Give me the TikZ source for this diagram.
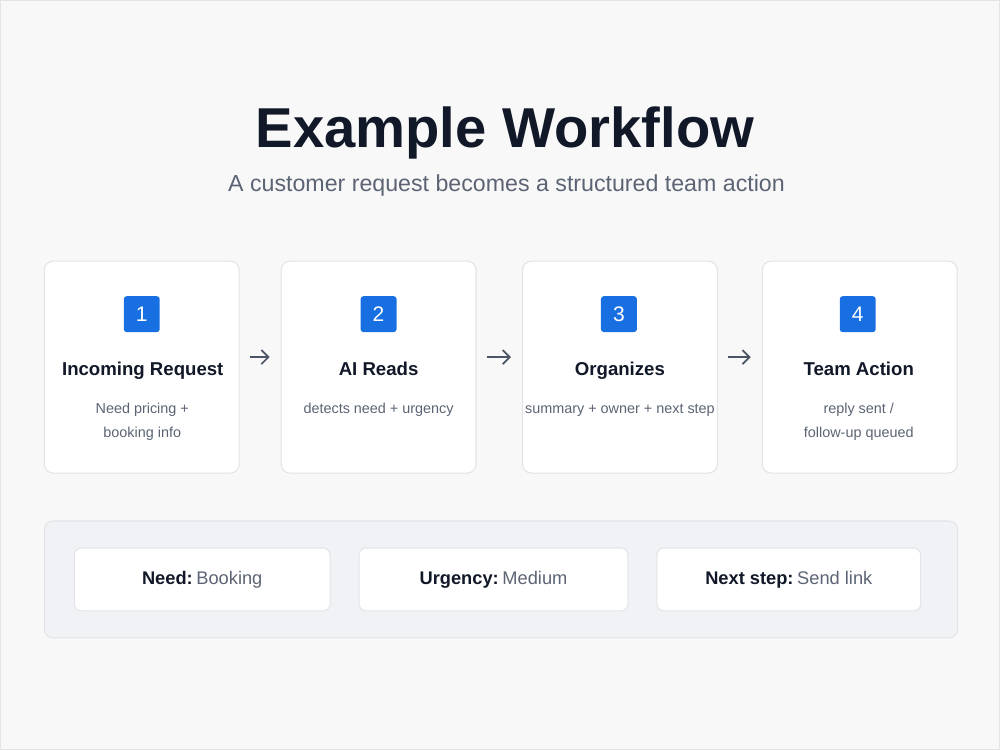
\documentclass[tikz,border=0pt]{standalone}
\usepackage{fontspec}
\setmainfont{Liberation Sans}
\usepackage{tikz}
\usetikzlibrary{arrows.meta,positioning}
\definecolor{pagebg}{HTML}{F8F8F9}
\definecolor{edgegray}{HTML}{E2E4E8}
\definecolor{inkdark}{HTML}{111827}
\definecolor{inkgray}{HTML}{5C6474}
\definecolor{stepblue}{HTML}{186FE2}
\definecolor{arrowgray}{HTML}{4B5563}
\definecolor{panelbg}{HTML}{F1F2F5}

\begin{document}
\begin{tikzpicture}[
    card/.style={
      draw=edgegray, fill=white, rounded corners=5pt, line width=0.6pt,
      minimum width=3.9cm, minimum height=4.24cm
    },
    badge/.style={
      fill=stepblue, rounded corners=1.7pt, minimum size=0.72cm,
      inner sep=0pt, text=white, font=\fontsize{12}{14}\selectfont
    },
    steptitle/.style={font=\bfseries\fontsize{10.6}{12}\selectfont, text=inkdark, anchor=base},
    stepdesc/.style={font=\fontsize{8.2}{13.6}\selectfont, text=inkgray, align=center},
    field/.style={
      draw=edgegray, fill=white, rounded corners=4pt, line width=0.6pt,
      minimum height=1.26cm, font=\fontsize{10.4}{12}\selectfont, text=inkgray
    },
    >={Straight Barb[length=4pt,width=8pt]}
  ]
  % Page
  \draw[edgegray, fill=pagebg] (0,0) rectangle (20,-15);

  % Heading
  \node[font=\bfseries\fontsize{32}{36}\selectfont, text=inkdark, anchor=base]
    (title) at (10.1,-2.94) {Example Workflow};
  \node[font=\fontsize{13.2}{16}\selectfont, text=inkgray, anchor=base]
    (subtitle) at (10.13,-3.82) {A customer request becomes a structured team action};

  % Cards (left to right)
  \node[card] (c1) at (2.83,-7.34)  {};
  \node[card] (c2) at (7.57,-7.34)  {};
  \node[card] (c3) at (12.4,-7.34)  {};
  \node[card] (c4) at (17.2,-7.34)  {};

  % Numbers
  \node[badge] (b1) at (2.83,-6.28)  {1};
  \node[badge] (b2) at (7.57,-6.28)  {2};
  \node[badge] (b3) at (12.38,-6.28) {3};
  \node[badge] (b4) at (17.16,-6.28) {4};

  % Step names
  \node[steptitle] (t1) at (2.85,-7.5)  {Incoming Request};
  \node[steptitle] (t2) at (7.57,-7.5)  {AI Reads};
  \node[steptitle] (t3) at (12.4,-7.5)  {Organizes};
  \node[steptitle] (t4) at (17.18,-7.5) {Team Action};

  % Step details
  \node[stepdesc] (d1) at (2.84,-8.44)  {Need pricing +\\booking info};
  \node[stepdesc] (d2) at (7.57,-8.2)   {detects need + urgency};
  \node[stepdesc] (d3) at (12.4,-8.2)   {summary + owner + next step};
  \node[stepdesc] (d4) at (17.18,-8.44) {reply sent /\\follow-up queued};

  % Arrows
  \foreach \i/\j in {c1/c2, c2/c3, c3/c4} {
    \draw[->, arrowgray, line width=1pt, shorten <=0.2cm, shorten >=0.22cm]
      ([yshift=0.2cm]\i.east) -- ([yshift=0.2cm]\j.west);
  }

  % Result panel
  \node[draw=edgegray, fill=panelbg, rounded corners=5pt, line width=0.6pt,
        minimum width=18.28cm, minimum height=2.34cm] (panel) at (10.02,-11.59) {};
  \node[field, minimum width=5.12cm] (f1) at (4.04,-11.59)  {\textcolor{inkdark}{\bfseries Need:}\hspace{0.2em}Booking};
  \node[field, minimum width=5.38cm] (f2) at (9.87,-11.59)  {\textcolor{inkdark}{\bfseries Urgency:}\hspace{0.2em}Medium};
  \node[field, minimum width=5.28cm] (f3) at (15.78,-11.59) {\textcolor{inkdark}{\bfseries Next step:}\hspace{0.2em}Send link};
\end{tikzpicture}
\end{document}
